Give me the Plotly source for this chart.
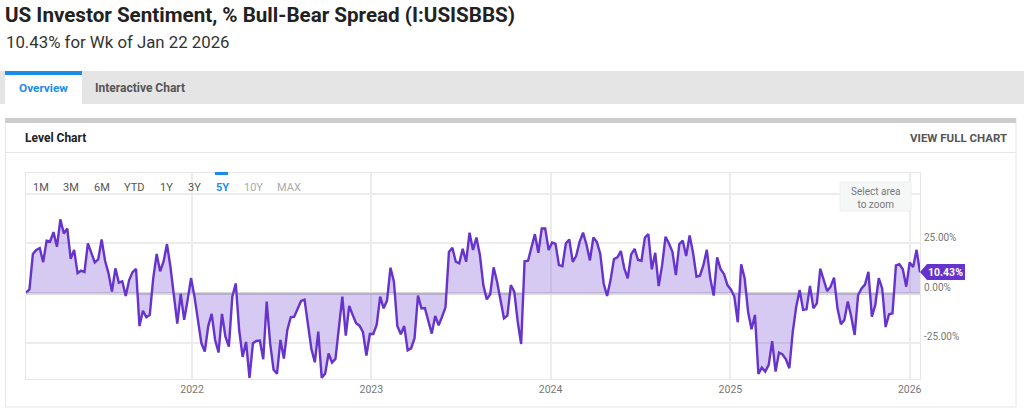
import pandas as pd
import plotly.graph_objects as go

# weekly readings
spread = [
    0.2, 1.8, 19.6, 21.6, 22.6, 15.5, 26.3, 25.9, 30.6, 23.2, 37.0, 29.9, 32.4, 17.2, 21.6, 10.0, 11.2, 10.5, 24.9, 20.2,
    15.4, 16.9, 26.9, 16.2, 9.9, 0.7, 12.4, 5.2, 5.9, -1.5, 6.5, 10.5, 12.2, -16.6, -8.9, -12.2, -11.0, 7.4, 19.6, 10.9,
    15.7, 24.6, 13.2, -1.0, -15.4, -0.5, -13.5, -3.5, 7.5, -1.8, -13.5, -25.2, -29.4, -16.6, -10.5, -23.6, -29.9, -10.5, -21.9, -26.9,
    -1.8, 4.8, -18.6, -32.1, -24.6, -42.6, -25.2, -24.1, -23.9, -33.3, -4.3, -25.2, -38.6, -40.6, -23.6, -32.9, -18.6, -12.2, -11.9, -8.0,
    -4.0, -3.3, -16.1, -28.1, -34.8, -19.4, -42.6, -40.5, -30.4, -34.9, -33.1, -17.7, -1.8, -21.4, -6.5, -11.0, -15.2, -16.4, -19.7, -31.4,
    -20.6, -20.6, -15.9, -1.8, -7.7, -3.8, 12.7, 5.7, -16.6, -20.7, -16.6, -28.8, -27.8, -22.7, -1.3, -7.7, -7.5, -14.0, -20.4, -11.5,
    -16.2, -11.9, -7.2, 20.6, 22.7, 15.7, 14.9, 22.2, 15.7, 30.3, 21.6, 27.9, 19.1, 4.0, -3.2, -0.7, 12.9, 5.7, -3.5, -12.7,
    -11.4, 4.0, 0.7, -14.4, -25.6, 15.9, 16.2, 22.4, 29.6, 20.2, 32.4, 32.4, 21.6, 25.4, 24.7, 14.0, 13.5, 24.9, 26.9, 15.7,
    18.6, 25.7, 30.3, 24.4, 16.4, 27.9, 25.7, 19.9, 4.8, -1.5, 6.5, 17.1, 17.9, 21.1, 12.4, 7.4, 19.4, 22.2, 16.6, 16.2,
    27.9, 29.6, 11.9, 20.2, 3.5, 14.0, 28.3, 24.9, 20.7, 9.0, 24.6, 26.3, 18.6, 28.9, 20.2, 8.2, 8.7, 14.0, 21.7, 7.4,
    -1.3, 17.9, 12.0, 9.5, 4.0, 1.8, -1.8, -14.7, 14.4, 7.4, -9.4, -18.2, -11.0, -40.6, -37.5, -39.5, -36.1, -24.2, -39.5, -29.9,
    -30.8, -33.3, -37.8, -19.4, -6.9, 1.5, -8.5, -8.2, 3.5, -7.7, -5.2, 12.2, 6.5, 1.0, 3.2, 7.7, -7.7, -15.7, -13.5, -4.3,
    -11.9, -21.1, -1.0, 2.3, 4.2, 10.7, -11.9, -6.0, 7.5, 2.3, -17.1, -10.7, -10.2, 13.9, 14.5, 11.9, 3.2, 15.4, 13.0, 21.7,
    10.43,
]
weeks = pd.date_range("2021-01-28", periods=len(spread), freq="7D")

y_ticks = [-25, 0, 25, 50]
y_labels = ["-25.00%", "0.00%", "25.00%", ""]
range_buttons = ["1M", "3M", "6M", "YTD", "1Y", "3Y", "5Y", "10Y", "MAX"]
button_x = [40.5, 71, 102, 134, 166, 194, 222, 253, 289]

# plot area in page pixels
LEFT, RIGHT, TOP, BOTTOM = 26, 920, 173, 379
PURPLE = "#6633cc"


def px(x):
    return (x - LEFT) / (RIGHT - LEFT)


def py(y):
    return (BOTTOM - y) / (BOTTOM - TOP)


def box(x0, y0, x1, y1, fill, line=None, layer="below"):
    return dict(
        type="rect", xref="paper", yref="paper", layer=layer,
        x0=px(x0), x1=px(x1), y0=py(y0), y1=py(y1),
        fillcolor=fill, line=dict(color=line or fill, width=1 if line else 0),
    )


def label(text, x, y, size, color, anchor="left", family="Roboto"):
    return dict(
        text=text, xref="paper", yref="paper", x=px(x), y=py(y),
        xanchor=anchor, yanchor="middle", showarrow=False, borderpad=0,
        font=dict(family=family, size=size, color=color),
    )


fig = go.Figure()
fig.add_trace(go.Scatter(
    x=weeks, y=spread, mode="lines", fill="tozeroy",
    fillcolor="rgba(102,51,204,0.26)",
    line=dict(color=PURPLE, width=2.4),
    hovertemplate="%{x|%b %d %Y}: %{y:.2f}%<extra></extra>",
))

shapes = [
    box(0, 71, 1024, 104, "#e5e5e5"),
    box(5, 71, 82, 104, "#ffffff"),
    box(5, 71, 82, 75, "#1a8cec"),
    box(5.5, 118.5, 1016, 407, "#ffffff", "#e6e6e6"),
    box(5, 118, 1016, 123, "#cccccc"),
    box(6, 152, 1016, 153, "#e6e6e6"),
    box(215, 172, 228, 175, "#1a8cec", layer="above"),
    box(840, 182, 911, 211, "#f5f7f7", "#eeeeee", layer="above"),
    # flag holding the latest value
    dict(
        type="path", xref="paper", yref="paper", layer="above",
        path=(
            f"M {px(920)} {py(272)} L {px(927)} {py(264)} L {px(965)} {py(264)} "
            f"L {px(965)} {py(280)} L {px(927)} {py(280)} Z"
        ),
        fillcolor=PURPLE, line=dict(width=0),
    ),
]

annotations = [
    label("<b>US Investor Sentiment, % Bull-Bear Spread (I:USISBBS)</b>", 4, 15, 20.6, "#222222"),
    label("10.43% for Wk of Jan 22 2026", 5, 42, 16.8, "#333333"),
    label("<b>Overview</b>", 18, 88, 11.8, "#1a8cec"),
    label("<b>Interactive Chart</b>", 94, 88, 12, "#555555"),
    label("<b>Level Chart</b>", 24, 138, 12, "#222222"),
    label("<b>VIEW FULL CHART</b>", 1008, 138, 11.5, "#555555", anchor="right"),
    label("Select area<br>to zoom", 875.5, 197.5, 10, "#777777", anchor="center"),
    label("<b>10.43%</b>", 945.5, 272, 10.5, "#ffffff", anchor="center"),
]
for name, x in zip(range_buttons, button_x):
    if name == "5Y":
        color = "#1a8cec"
    elif name in ("10Y", "MAX"):
        color = "#aaaaaa"
    else:
        color = "#555555"
    text = f"<b>{name}</b>" if name == "5Y" else name
    annotations.append(label(text, x, 187, 11, color, anchor="center"))

fig.update_layout(
    width=1024,
    height=415,
    margin=dict(l=LEFT, r=1024 - RIGHT, t=TOP, b=415 - BOTTOM),
    paper_bgcolor="#ffffff",
    plot_bgcolor="rgba(0,0,0,0)",
    showlegend=False,
    shapes=shapes,
    annotations=annotations,
    font=dict(family="Roboto"),
)
fig.update_xaxes(
    range=[weeks[0], weeks[-1]],
    tick0="2022-01-01", dtick="M12", tickformat="%Y",
    showgrid=True, gridcolor="#ececec", gridwidth=1.5,
    showline=True, linecolor="#e6e6e6", linewidth=1, mirror=True,
    ticks="", tickfont=dict(size=10.5, color="#777777"),
    fixedrange=True,
)
fig.update_yaxes(
    range=[-43.2, 60.3], side="right",
    tickmode="array", tickvals=y_ticks, ticktext=y_labels,
    ticklabelshift=-6, ticklabelstandoff=1, ticks="",
    showgrid=True, gridcolor="#ececec", gridwidth=1.5,
    zeroline=True, zerolinecolor="#d8d8d8", zerolinewidth=2.5,
    showline=True, linecolor="#e6e6e6", linewidth=1, mirror=True,
    tickfont=dict(size=10, color="#777777"),
    fixedrange=True,
)

fig.write_html("out.html", config={"displayModeBar": False},
               post_script="document.body.style.margin='0';")
